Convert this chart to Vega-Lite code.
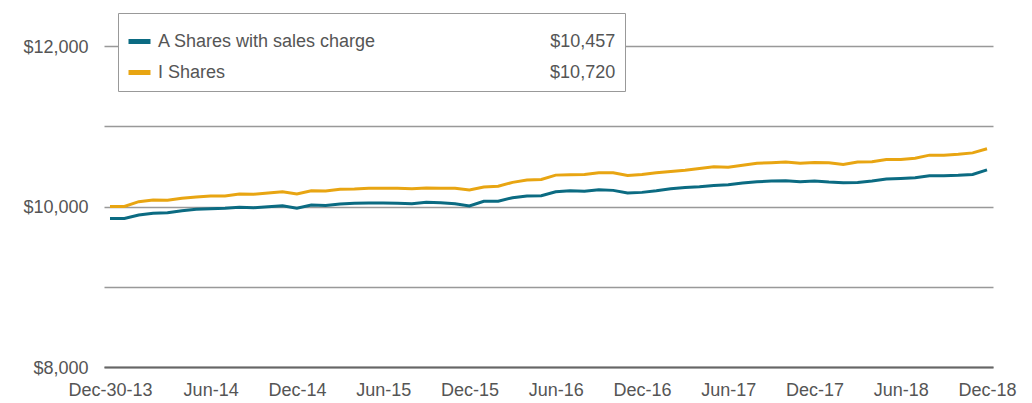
{
  "$schema": "https://vega.github.io/schema/vega-lite/v6.json",
  "width": 889,
  "height": 321,
  "autosize": {"type": "none"},
  "padding": {"left": 104, "top": 46, "right": 39, "bottom": 36},
  "background": "white",
  "config": {
    "view": {"stroke": null},
    "font": "Liberation Sans, Arial, sans-serif"
  },
  "data": {
    "values": [
      {"d": "Dec-30-13", "A Shares with sales charge": 9850, "I Shares": 10000},
      {"d": "Dec-31-13", "A Shares with sales charge": 9850, "I Shares": 10000},
      {"d": "Jan-14", "A Shares with sales charge": 9894, "I Shares": 10060},
      {"d": "Feb-14", "A Shares with sales charge": 9915, "I Shares": 10080},
      {"d": "Mar-14", "A Shares with sales charge": 9923, "I Shares": 10077},
      {"d": "Apr-14", "A Shares with sales charge": 9948, "I Shares": 10102},
      {"d": "May-14", "A Shares with sales charge": 9965, "I Shares": 10118},
      {"d": "Jun-14", "A Shares with sales charge": 9973, "I Shares": 10131},
      {"d": "Jul-14", "A Shares with sales charge": 9978, "I Shares": 10131},
      {"d": "Aug-14", "A Shares with sales charge": 9990, "I Shares": 10156},
      {"d": "Sep-14", "A Shares with sales charge": 9985, "I Shares": 10152},
      {"d": "Oct-14", "A Shares with sales charge": 9998, "I Shares": 10168},
      {"d": "Nov-14", "A Shares with sales charge": 10010, "I Shares": 10185},
      {"d": "Dec-14", "A Shares with sales charge": 9978, "I Shares": 10156},
      {"d": "Jan-15", "A Shares with sales charge": 10019, "I Shares": 10196},
      {"d": "Feb-15", "A Shares with sales charge": 10012, "I Shares": 10193},
      {"d": "Mar-15", "A Shares with sales charge": 10031, "I Shares": 10214},
      {"d": "Apr-15", "A Shares with sales charge": 10040, "I Shares": 10218},
      {"d": "May-15", "A Shares with sales charge": 10044, "I Shares": 10227},
      {"d": "Jun-15", "A Shares with sales charge": 10044, "I Shares": 10227},
      {"d": "Jul-15", "A Shares with sales charge": 10040, "I Shares": 10227},
      {"d": "Aug-15", "A Shares with sales charge": 10035, "I Shares": 10222},
      {"d": "Sep-15", "A Shares with sales charge": 10052, "I Shares": 10231},
      {"d": "Oct-15", "A Shares with sales charge": 10047, "I Shares": 10227},
      {"d": "Nov-15", "A Shares with sales charge": 10035, "I Shares": 10227},
      {"d": "Dec-15", "A Shares with sales charge": 10006, "I Shares": 10206},
      {"d": "Jan-16", "A Shares with sales charge": 10065, "I Shares": 10243},
      {"d": "Feb-16", "A Shares with sales charge": 10065, "I Shares": 10252},
      {"d": "Mar-16", "A Shares with sales charge": 10110, "I Shares": 10301},
      {"d": "Apr-16", "A Shares with sales charge": 10131, "I Shares": 10330},
      {"d": "May-16", "A Shares with sales charge": 10135, "I Shares": 10336},
      {"d": "Jun-16", "A Shares with sales charge": 10184, "I Shares": 10391},
      {"d": "Jul-16", "A Shares with sales charge": 10196, "I Shares": 10395},
      {"d": "Aug-16", "A Shares with sales charge": 10189, "I Shares": 10400},
      {"d": "Sep-16", "A Shares with sales charge": 10209, "I Shares": 10420},
      {"d": "Oct-16", "A Shares with sales charge": 10201, "I Shares": 10420},
      {"d": "Nov-16", "A Shares with sales charge": 10168, "I Shares": 10387},
      {"d": "Dec-16", "A Shares with sales charge": 10176, "I Shares": 10400},
      {"d": "Jan-17", "A Shares with sales charge": 10196, "I Shares": 10420},
      {"d": "Feb-17", "A Shares with sales charge": 10221, "I Shares": 10437},
      {"d": "Mar-17", "A Shares with sales charge": 10238, "I Shares": 10453},
      {"d": "Apr-17", "A Shares with sales charge": 10246, "I Shares": 10474},
      {"d": "May-17", "A Shares with sales charge": 10263, "I Shares": 10494},
      {"d": "Jun-17", "A Shares with sales charge": 10271, "I Shares": 10490},
      {"d": "Jul-17", "A Shares with sales charge": 10292, "I Shares": 10515},
      {"d": "Aug-17", "A Shares with sales charge": 10308, "I Shares": 10540},
      {"d": "Sep-17", "A Shares with sales charge": 10317, "I Shares": 10545},
      {"d": "Oct-17", "A Shares with sales charge": 10320, "I Shares": 10553},
      {"d": "Nov-17", "A Shares with sales charge": 10308, "I Shares": 10540},
      {"d": "Dec-17", "A Shares with sales charge": 10317, "I Shares": 10549},
      {"d": "Jan-18", "A Shares with sales charge": 10304, "I Shares": 10544},
      {"d": "Feb-18", "A Shares with sales charge": 10296, "I Shares": 10524},
      {"d": "Mar-18", "A Shares with sales charge": 10300, "I Shares": 10553},
      {"d": "Apr-18", "A Shares with sales charge": 10317, "I Shares": 10557},
      {"d": "May-18", "A Shares with sales charge": 10342, "I Shares": 10586},
      {"d": "Jun-18", "A Shares with sales charge": 10350, "I Shares": 10586},
      {"d": "Jul-18", "A Shares with sales charge": 10358, "I Shares": 10602},
      {"d": "Aug-18", "A Shares with sales charge": 10383, "I Shares": 10640},
      {"d": "Sep-18", "A Shares with sales charge": 10383, "I Shares": 10640},
      {"d": "Oct-18", "A Shares with sales charge": 10388, "I Shares": 10652},
      {"d": "Nov-18", "A Shares with sales charge": 10400, "I Shares": 10668},
      {"d": "Dec-18", "A Shares with sales charge": 10457, "I Shares": 10720}
    ]
  },
  "transform": [
    {"fold": ["A Shares with sales charge", "I Shares"], "as": ["series", "value"]}
  ],
  "mark": {"type": "line", "strokeWidth": 3, "interpolate": "linear"},
  "encoding": {
    "x": {
      "field": "d",
      "type": "ordinal",
      "sort": null,
      "scale": {"type": "point", "padding": 0.417},
      "axis": {
        "title": null,
        "values": ["Dec-30-13", "Jun-14", "Dec-14", "Jun-15", "Dec-15", "Jun-16", "Dec-16", "Jun-17", "Dec-17", "Jun-18", "Dec-18"],
        "labelAngle": 0,
        "labelFontSize": 18,
        "labelColor": "#555555",
        "labelPadding": 14,
        "ticks": false,
        "domain": true,
        "domainColor": "#666666",
        "domainWidth": 2,
        "grid": false,
        "labelOverlap": false
      }
    },
    "y": {
      "field": "value",
      "type": "quantitative",
      "scale": {"domain": [8000, 12000], "nice": false, "zero": false},
      "axis": {
        "title": null,
        "values": [8000, 9000, 10000, 11000, 12000],
        "labelExpr": "datum.value % 2000 == 0 ? '$' + format(datum.value, ',') : ''",
        "labelFontSize": 18,
        "labelColor": "#555555",
        "labelPadding": 16,
        "labelOffset": 1,
        "ticks": false,
        "domain": false,
        "grid": true,
        "gridColor": "#999999",
        "gridWidth": 1.5
      }
    },
    "color": {
      "field": "series",
      "type": "nominal",
      "scale": {"domain": ["A Shares with sales charge", "I Shares"], "range": ["#0b6b82", "#e8a512"]},
      "legend": {
        "title": " ",
        "titleFontSize": 7,
        "titlePadding": 0,
        "orient": "none",
        "legendX": 14,
        "legendY": -33,
        "direction": "vertical",
        "fillColor": "white",
        "strokeColor": "#999999",
        "padding": 8,
        "rowPadding": 7,
        "symbolType": "stroke",
        "symbolStrokeWidth": 5,
        "symbolSize": 484,
        "labelFontSize": 18,
        "labelColor": "#555555",
        "labelOffset": 5,
        "labelLimit": 700,
        "labelExpr": "datum.label == 'I Shares' ? pad('I Shares', 73, '\u00a0') + '$10,720' : pad(datum.label, 61, '\u00a0') + '$10,457'"
      }
    }
  }
}
